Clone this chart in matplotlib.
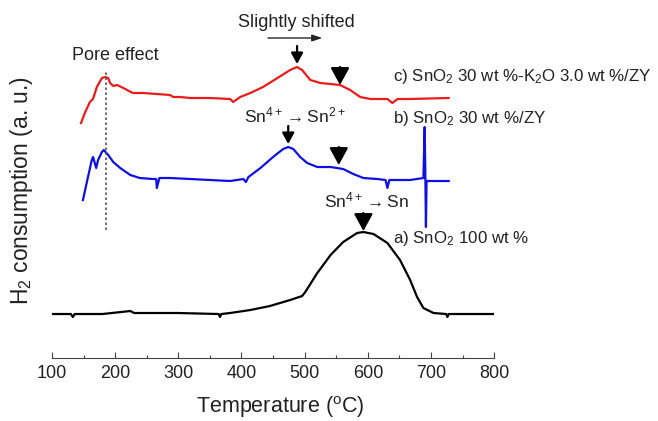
import matplotlib.pyplot as plt
import numpy as np

plt.rcParams['font.family'] = ['Liberation Sans', 'DejaVu Sans']
plt.rcParams['mathtext.fontset'] = 'custom'
plt.rcParams['mathtext.rm'] = 'Liberation Sans'
plt.rcParams['mathtext.it'] = 'Liberation Sans:italic'

# curves (temperature in C, signal in a.u.)
temp_a = [100, 130, 133, 136, 180, 224, 230, 300, 364, 366, 368, 382, 414, 445, 477, 496, 501,
          520, 541, 561, 583, 593, 609, 631, 651, 667, 678, 688, 704, 724, 726, 728, 799]
sig_a = [44, 44, 41, 44, 44, 47, 45, 45, 44, 41, 44, 45, 48, 52, 58, 62, 66,
         85, 103, 116, 125, 126, 124, 115, 98, 78, 61, 50, 45, 44, 41, 44, 44]

temp_b = [149, 157, 163, 165, 170, 173, 179, 182, 189, 197, 208, 224, 239, 260, 265, 266, 270,
          287, 319, 350, 382, 403, 407, 411, 430, 450, 466, 474, 482, 493, 504, 520, 541, 561,
          577, 593, 615, 628, 631, 634, 667, 688, 690, 691, 692, 693, 728]
sig_b = [158, 181, 198, 201, 190, 198, 206, 208, 203, 196, 190, 183, 180, 179, 179, 170, 180,
         180, 179, 178, 177, 179, 176, 181, 190, 201, 209, 211, 209, 201, 195, 191, 191, 189,
         184, 180, 179, 178, 170, 178, 178, 180, 231, 186, 131, 177, 177]

temp_c = [146, 152, 160, 165, 171, 179, 184, 189, 192, 197, 203, 213, 228, 244, 266, 287, 292,
          303, 319, 350, 382, 387, 398, 414, 434, 457, 477, 488, 496, 509, 525, 541, 556, 572,
          588, 604, 631, 639, 647, 667, 728]
sig_c = [235, 245, 256, 259, 271, 280, 281, 280, 275, 272, 273, 270, 265, 265, 264, 263, 261,
         261, 260, 260, 259, 256, 261, 265, 271, 280, 288, 291, 288, 278, 275, 274, 273, 268,
         261, 259, 259, 255, 259, 259, 260]

labels = ['a) SnO$_2$ 100 wt %', 'b) SnO$_2$ 30 wt %/ZY', 'c) SnO$_2$ 30 wt %-K$_2$O 3.0 wt %/ZY']
ticks = [100, 200, 300, 400, 500, 600, 700, 800]

fig = plt.figure(figsize=(6.58, 4.21), dpi=100)
ax = fig.add_axes([0.079, 0.1496, 0.672, 0.8504])

ax.plot(temp_a, sig_a, color='black', lw=1.6)
ax.plot(temp_b, sig_b, color='#1010e0', lw=1.6)
ax.plot(temp_c, sig_c, color='#e81c1c', lw=1.6)

ax.set_xlim(100, 800)
ax.set_ylim(0, 358)
for s in ['left', 'right', 'top']:
    ax.spines[s].set_visible(False)
ax.spines['bottom'].set_color('#444444')
ax.set_yticks([])
ax.set_xticks(ticks)
ax.set_xticks(np.arange(150, 800, 100), minor=True)
ax.tick_params(axis='x', direction='in', length=4, width=0.8, labelsize=13, pad=5, colors='#444444',
               labelcolor='#222222')
ax.tick_params(axis='x', which='minor', direction='in', length=2.5, width=0.8, colors='#444444')
ax.set_xlabel('Temperature ($^{\\rm o}$C)', fontsize=15.5, color='#222222', va='center')
ax.xaxis.set_label_coords(0.516, -0.138)
ax.set_ylabel('H$_2$ consumption (a. u.)', fontsize=16.5, color='#222222', va='center')
ax.yaxis.set_label_coords(-0.068, 0.469)

# pore effect line
ax.plot([185.6, 185.6], [128, 288], ls=(0, (1.5, 1.5)), color='#555555', lw=1.2)
ax.text(201, 303, 'Pore effect', fontsize=13, ha='center', va='center', color='#222222')

# slightly shifted
ax.text(487, 336, 'Slightly shifted', fontsize=13, ha='center', va='center', color='#222222')
ax.annotate('', xy=(528, 320), xytext=(442, 320),
            arrowprops=dict(arrowstyle='-|>,head_length=0.6,head_width=0.2', color='#222222',
                            lw=1.0, mutation_scale=10, shrinkA=0, shrinkB=0))

hp = dict(arrowstyle='-|>,head_length=0.55,head_width=0.3', color='black', lw=1.6,
          mutation_scale=12, shrinkA=0, shrinkB=0)
bp = dict(arrowstyle='-|>,head_length=0.55,head_width=0.3', color='black', lw=1.6,
          mutation_scale=19, shrinkA=0, shrinkB=0)
ax.annotate('', xy=(488, 294), xytext=(488, 312), arrowprops=hp)
ax.annotate('', xy=(556, 273), xytext=(556, 291), arrowprops=bp)
ax.text(485, 243, 'Sn$^{4+}$$\\rightarrow$Sn$^{2+}$', fontsize=12.5, ha='center', va='center', color='#222222')

ax.annotate('', xy=(474, 214), xytext=(474, 232), arrowprops=hp)
ax.annotate('', xy=(554, 193), xytext=(554, 211), arrowprops=bp)
ax.text(598, 158, 'Sn$^{4+}$$\\rightarrow$Sn', fontsize=12.5, ha='center', va='center', color='#222222')

ax.annotate('', xy=(593, 127), xytext=(593, 145), arrowprops=bp)

for lab, yy in zip(labels, [119, 240, 281]):
    fig.text(393 / 658, 1 - (358 - yy) / 421, lab, fontsize=12.2, ha='left', va='center', color='#222222')

fig.savefig('out.png', dpi=100)
